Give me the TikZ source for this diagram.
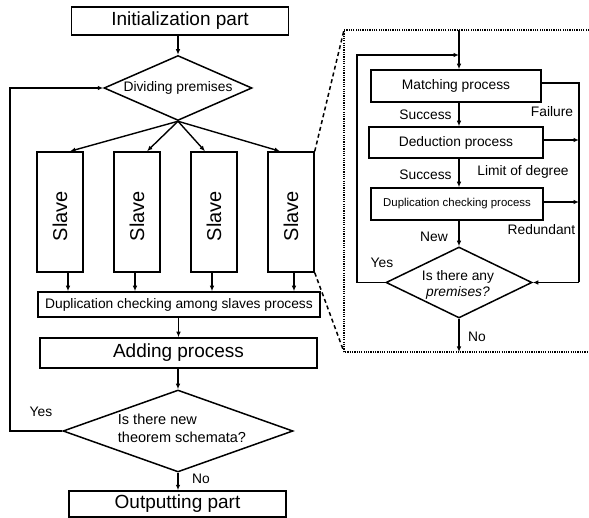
\documentclass[tikz,border=0pt]{standalone}
\usepackage{fontspec}
\setmainfont{Liberation Sans}
\usepackage{graphicx}
\usetikzlibrary{shapes.geometric,arrows.meta,calc}
\begin{document}
\begin{tikzpicture}[x=1pt,y=-1pt,
 box/.style={draw,line width=1.5pt,inner sep=0pt,anchor=center},
 dia/.style={draw,diamond,line width=1.5pt,inner sep=0pt},
 arr/.style={line width=1.4pt,-{Latex[length=5.5pt,width=4.5pt]}},
 ln/.style={line width=1.4pt},
 big/.style={font=\fontsize{19}{22}\selectfont},
 mid/.style={font=\fontsize{13.8}{16}\selectfont},
 lbl/.style={font=\fontsize{13.8}{16}\selectfont,inner sep=0pt},
 dots/.style={line width=1.6pt,dash pattern=on 1.2pt off 1.1pt},
 dashd/.style={line width=1.5pt,dash pattern=on 4pt off 3pt}]
\useasboundingbox (0,0) rectangle (589,518);
% ---------- left flow ----------
\node[box,big,minimum width=217,minimum height=28] (init) at (180,21) {Initialization part};
\node[dia,minimum width=148,minimum height=65] (div) at (178,88) {};
\node[mid,inner sep=0pt] (divt) at (178,88) {Dividing premises};
\foreach \n/\x in {s1/60,s2/137,s3/214,s4/291}{
  \node[box,minimum width=46,minimum height=120] (\n) at (\x,212) {\raisebox{0pt}{\rotatebox{90}{\fontsize{20}{22}\selectfont Slave\hspace{8pt}}}};
}
\node[box,mid,minimum width=282,minimum height=25] (dup) at (179,304.5) {Duplication checking among slaves process};
\node[box,big,minimum width=277,minimum height=30] (add) at (178.5,353) {Adding process};
\node[dia,minimum width=230,minimum height=82] (thm) at (178,431) {};
\node[align=left,inner sep=0pt,font=\fontsize{14.5}{18}\selectfont] (thmt) at (182,428) {Is there new\\theorem schemata?};
\node[box,big,minimum width=217,minimum height=26] (out) at (177.5,504) {Outputting part};
\node[lbl] (yes1) at (41,412) {Yes};
\node[lbl] (no1) at (201,479) {No};
\coordinate (lp) at (10,431);

\draw[arr] (init.south -| div.north) -- (div.north);
\draw[arr] (div.south) -- ([xshift=10pt]s1.north);
\draw[arr] (div.south) -- ([xshift=10pt]s2.north);
\draw[arr] (div.south) -- ([xshift=-9pt]s3.north);
\draw[arr] (div.south) -- ([xshift=-11pt]s4.north);
\draw[arr] ([xshift=8pt]s1.south) -- ([xshift=8pt]s1.south |- dup.north);
\draw[arr] ([xshift=-2pt]s2.south) -- ([xshift=-2pt]s2.south |- dup.north);
\draw[arr] ([xshift=-2pt]s3.south) -- ([xshift=-2pt]s3.south |- dup.north);
\draw[arr] ([xshift=3pt]s4.south) -- ([xshift=3pt]s4.south |- dup.north);
\draw[arr] (dup.south -| add.north) -- (add.north);
\draw[arr] (add.south -| thm.north) -- (thm.north);
\draw[arr] (thm.south) -- (thm.south |- out.north);
\draw[arr] (thm.west) -- (lp) |- (div.west);

% ---------- zoomed detail ----------
\coordinate (dTL) at (344,30);
\coordinate (dBL) at (344,352);
\coordinate (dTR) at (589,30);
\coordinate (dBR) at (589,352);
\draw[dots] (dTR) -- (dTL) -- (dBL) -- (dBR);
\draw[dashd] (s4.north east) -- (dTL);
\draw[dashd] (s4.south east) -- (dBL);

\node[box,mid,minimum width=170,minimum height=32] (match) at (456,86) {Matching process};
\node[box,mid,minimum width=174,minimum height=31] (ded) at (456,142.5) {Deduction process};
\node[box,font=\fontsize{11.4}{13}\selectfont,minimum width=172,minimum height=32] (dupc) at (457,204) {Duplication checking process};
\node[dia,minimum width=146,minimum height=71] (ask) at (459,282.5) {};
\node[align=center,inner sep=0pt,font=\fontsize{13.8}{16}\selectfont] (askt) at (458,285) {Is there any\\\textit{premises?}};

\coordinate (top) at (459,30);
\coordinate (bot) at (459,352);
\coordinate (lt) at (357,55);
\coordinate (lb) at (357,282.5);
\coordinate (ln) at (459,55);
\coordinate (rt) at (579,83);
\coordinate (rb) at (579,282.5);

\node[lbl] (suc1) at (425.5,115) {Success};
\node[lbl] (fail) at (552,112) {Failure};
\node[lbl] (suc2) at (425.5,175) {Success};
\node[lbl] (lim) at (523,172) {Limit of degree};
\node[lbl] (red) at (541.5,230) {Redundant};
\node[lbl] (new) at (434,237) {New};
\node[lbl] (yes2) at (382,263) {Yes};
\node[lbl] (no2) at (477,337) {No};

\draw[arr] (top) -- (top |- match.north);
\draw[arr] (top |- match.south) -- (top |- ded.north);
\draw[arr] (top |- ded.south) -- (top |- dupc.north);
\draw[arr] (top |- dupc.south) -- (ask.north);
\draw[arr] (ask.south) -- (bot);
\draw[arr] (ask.west) -- (lb) -- (lt) -- (ln);
\draw[ln] (match.east |- rt) -- (rt) -- (rb);
\draw[arr] (rb) -- (ask.east);
\draw[arr] (ded.east |- 0,140) -- (rt |- 0,140);
\draw[arr] (dupc.east |- 0,202) -- (rt |- 0,202);
\end{tikzpicture}
\end{document}
